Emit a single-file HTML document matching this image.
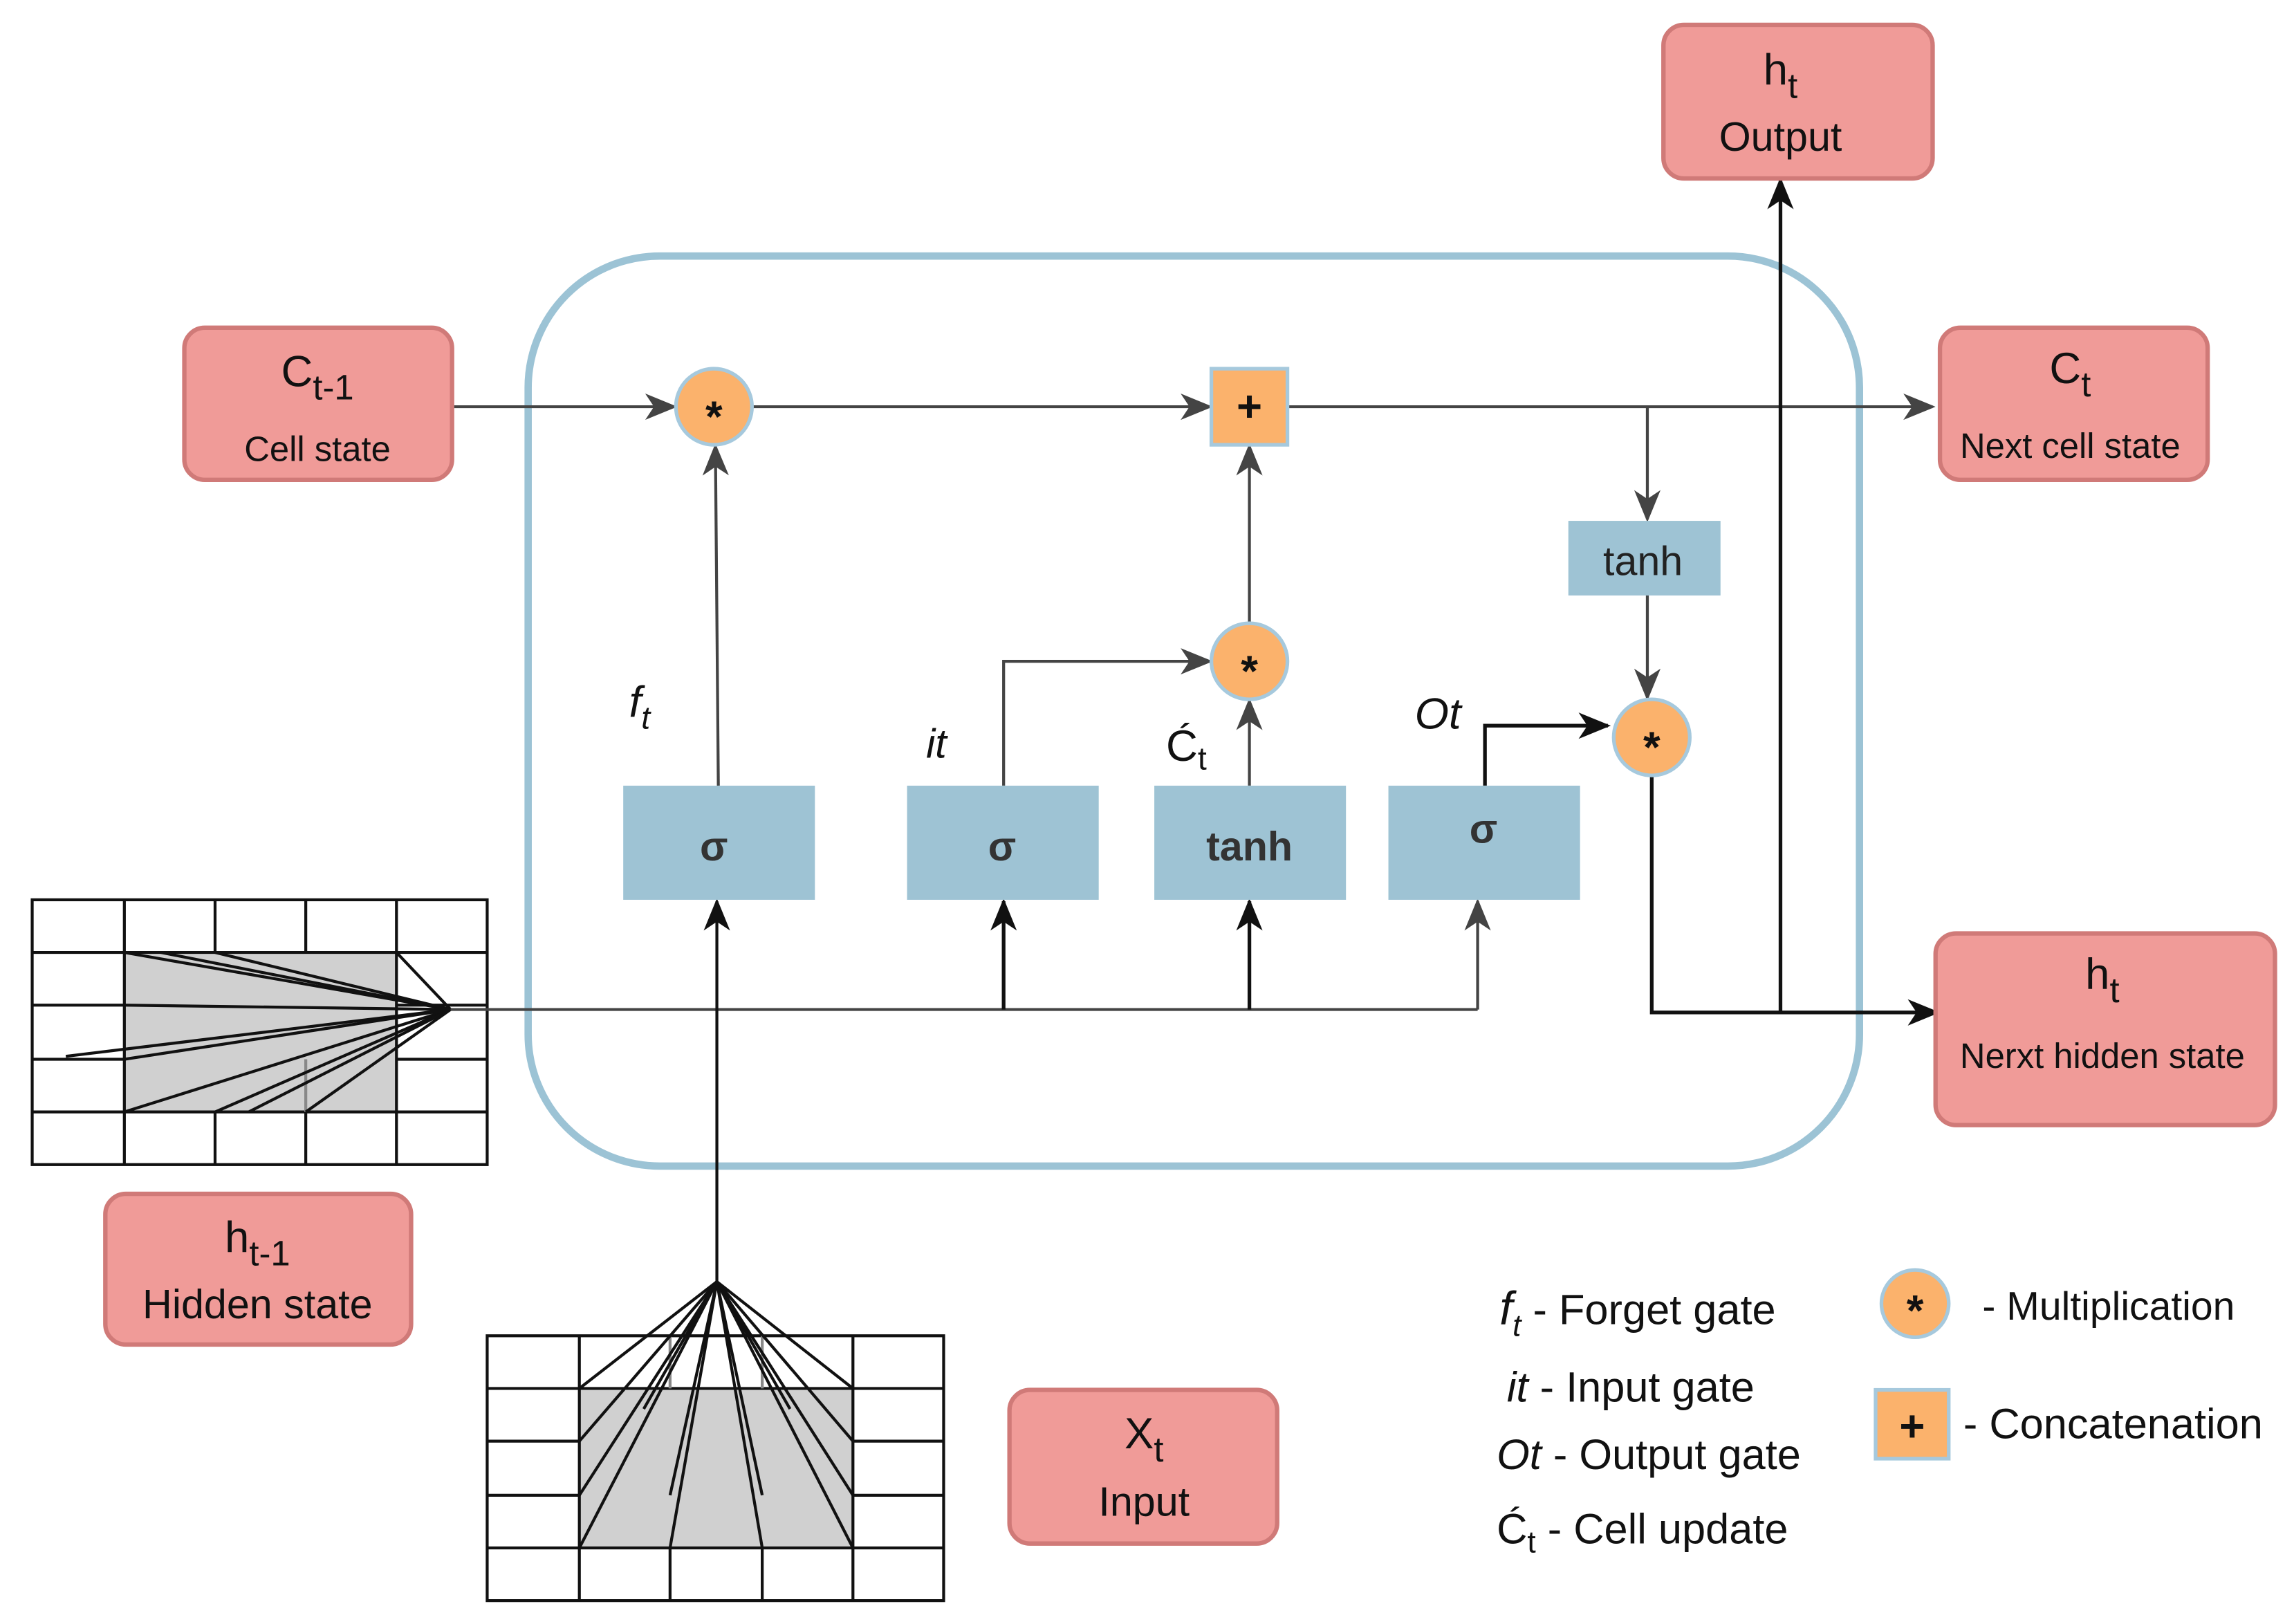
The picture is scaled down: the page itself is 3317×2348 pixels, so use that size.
<!DOCTYPE html>
<html><head><meta charset="utf-8"><style>
html,body{margin:0;padding:0;background:#fff}
svg{display:block}
text{font-family:"Liberation Sans",sans-serif;fill:#111}
</style></head><body>
<svg width="3317" height="2348" viewBox="0 0 1568 1110" preserveAspectRatio="none" xmlns="http://www.w3.org/2000/svg">
<defs>
<marker id="ab" markerWidth="22" markerHeight="22" refX="20" refY="11" orient="auto" markerUnits="userSpaceOnUse" viewBox="0 0 22 22"><path d="M0,2 L22,11 L0,20 L6,11 Z" fill="#111"/></marker>
<marker id="ag2" markerWidth="22" markerHeight="22" refX="20" refY="11" orient="auto" markerUnits="userSpaceOnUse" viewBox="0 0 22 22"><path d="M0,2 L22,11 L0,20 L6,11 Z" fill="#444"/></marker>
</defs>
<rect x="0" y="0" width="1568" height="1110" fill="#fff"/>
<rect x="361" y="175" width="910" height="622" rx="90" fill="none" stroke="#9cc3d5" stroke-width="5"/>

<!-- grid 1 -->
<rect x="85" y="651" width="186" height="109" fill="#d0d0d0"/>
<g stroke="#111" stroke-width="2" fill="none">
<rect x="22" y="615" width="311" height="181"/>
<line x1="22" y1="651" x2="333" y2="651"/>
<line x1="22" y1="687" x2="85" y2="687"/><line x1="271" y1="687" x2="333" y2="687"/>
<line x1="22" y1="724" x2="85" y2="724"/><line x1="271" y1="724" x2="333" y2="724"/>
<line x1="22" y1="760" x2="333" y2="760"/>
<line x1="85" y1="615" x2="85" y2="651"/><line x1="147" y1="615" x2="147" y2="651"/><line x1="209" y1="615" x2="209" y2="651"/><line x1="271" y1="615" x2="271" y2="651"/>
<line x1="85" y1="651" x2="85" y2="760"/><line x1="271" y1="651" x2="271" y2="760"/>
<line x1="85" y1="760" x2="85" y2="796"/><line x1="147" y1="760" x2="147" y2="796"/><line x1="209" y1="760" x2="209" y2="796"/><line x1="271" y1="760" x2="271" y2="796"/>
<line x1="209" y1="724" x2="209" y2="760" stroke="#888"/>
<line x1="308" y1="690" x2="85" y2="651"/><line x1="308" y1="690" x2="110" y2="651"/><line x1="308" y1="690" x2="147" y2="651"/><line x1="308" y1="690" x2="271" y2="651"/>
<line x1="308" y1="690" x2="45" y2="722"/><line x1="308" y1="690" x2="85" y2="724"/>
<line x1="308" y1="690" x2="85" y2="760"/><line x1="308" y1="690" x2="147" y2="760"/><line x1="308" y1="690" x2="170" y2="760"/><line x1="308" y1="690" x2="209" y2="760"/>
<line x1="85" y1="687" x2="308" y2="690"/>
</g>

<!-- grid 2 -->
<rect x="396" y="949" width="187" height="109" fill="#d0d0d0"/>
<g stroke="#111" stroke-width="2" fill="none">
<rect x="333" y="913" width="312" height="181"/>
<line x1="333" y1="949" x2="645" y2="949"/>
<line x1="333" y1="985" x2="396" y2="985"/><line x1="583" y1="985" x2="645" y2="985"/>
<line x1="333" y1="1022" x2="396" y2="1022"/><line x1="583" y1="1022" x2="645" y2="1022"/>
<line x1="333" y1="1058" x2="645" y2="1058"/>
<line x1="396" y1="913" x2="396" y2="1058"/><line x1="583" y1="913" x2="583" y2="1058"/>
<line x1="458" y1="913" x2="458" y2="949" stroke="#888"/><line x1="521" y1="913" x2="521" y2="949" stroke="#888"/>
<line x1="396" y1="1058" x2="396" y2="1094"/><line x1="458" y1="1058" x2="458" y2="1094"/><line x1="521" y1="1058" x2="521" y2="1094"/><line x1="583" y1="1058" x2="583" y2="1094"/>
<line x1="490" y1="876" x2="396" y2="949"/><line x1="490" y1="876" x2="396" y2="985"/><line x1="490" y1="876" x2="396" y2="1022"/><line x1="490" y1="876" x2="396" y2="1058"/>
<line x1="490" y1="876" x2="458" y2="1022"/><line x1="490" y1="876" x2="458" y2="1058"/><line x1="490" y1="876" x2="440" y2="963"/>
<line x1="490" y1="876" x2="521" y2="1022"/><line x1="490" y1="876" x2="521" y2="1058"/><line x1="490" y1="876" x2="540" y2="963"/>
<line x1="490" y1="876" x2="583" y2="1058"/><line x1="490" y1="876" x2="583" y2="1022"/><line x1="490" y1="876" x2="583" y2="985"/><line x1="490" y1="876" x2="583" y2="949"/>
</g>

<!-- connectors -->
<g stroke="#444" stroke-width="2" fill="none">
<line x1="309" y1="278" x2="461" y2="278" marker-end="url(#ag2)"/>
<line x1="514" y1="278" x2="827" y2="278" marker-end="url(#ag2)"/>
<line x1="880" y1="278" x2="1321" y2="278" marker-end="url(#ag2)"/>
<line x1="1126" y1="278" x2="1126" y2="355" marker-end="url(#ag2)"/>
<line x1="1126" y1="407" x2="1126" y2="477" marker-end="url(#ag2)"/>
<line x1="491" y1="537" x2="489" y2="305" marker-end="url(#ag2)"/>
<line x1="854" y1="426" x2="854" y2="305" marker-end="url(#ag2)"/>
<line x1="854" y1="537" x2="854" y2="479" marker-end="url(#ag2)"/>
<polyline points="686,537 686,452 827,452" marker-end="url(#ag2)"/>
<line x1="308" y1="690" x2="1010" y2="690"/>
<line x1="1010" y1="690" x2="1010" y2="616" marker-end="url(#ag2)"/>
</g>
<g stroke="#111" stroke-width="2.5" fill="none">
<line x1="490" y1="876" x2="490" y2="616" stroke-width="2" marker-end="url(#ab)"/>
<line x1="686" y1="690" x2="686" y2="616" marker-end="url(#ab)"/>
<line x1="854" y1="690" x2="854" y2="616" marker-end="url(#ab)"/>
<polyline points="1015,537 1015,496 1099,496" marker-end="url(#ab)"/>
<polyline points="1129,530 1129,692 1324,692" marker-end="url(#ab)"/>
<line x1="1217" y1="692" x2="1217" y2="123" marker-end="url(#ab)"/>
</g>

<!-- ops -->
<g stroke="#a6c9dd" stroke-width="2.5" fill="#fbb26c">
<circle cx="488" cy="278" r="26"/>
<rect x="828" y="252" width="52" height="52"/>
<circle cx="854" cy="452" r="26"/>
<circle cx="1129" cy="504" r="26"/>
<circle cx="1309" cy="891" r="23"/>
<rect x="1282" y="950" width="50" height="47"/>
</g>
<g font-size="30" font-weight="bold" text-anchor="middle">
<text x="488" y="295">*</text><text x="854" y="288">+</text>
<text x="854" y="469">*</text><text x="1129" y="521">*</text>
<text x="1309" y="906">*</text><text x="1307" y="985">+</text>
</g>

<!-- gates -->
<g fill="#9ec3d4">
<rect x="426" y="537" width="131" height="78"/>
<rect x="620" y="537" width="131" height="78"/>
<rect x="789" y="537" width="131" height="78"/>
<rect x="949" y="537" width="131" height="78"/>
<rect x="1072" y="356" width="104" height="51"/>
</g>
<g font-size="28" font-weight="bold" text-anchor="middle">
<text x="488" y="588" style="fill:#333">σ</text>
<text x="685" y="588" style="fill:#333">σ</text>
<text x="854" y="588" style="fill:#333">tanh</text>
<text x="1014" y="576" style="fill:#333">σ</text>
</g>
<text x="1123" y="393" font-size="28" text-anchor="middle" style="fill:#222">tanh</text>

<!-- labels -->
<text x="430" y="490" font-size="30" font-style="italic">f<tspan font-size="22" dy="8">t</tspan></text>
<text x="633" y="518" font-size="28" font-style="italic">it</text>
<text x="797" y="520" font-size="30">Ć<tspan font-size="22" dy="6">t</tspan></text>
<text x="967" y="498" font-size="30" font-style="italic">Ot</text>

<!-- pink boxes -->
<g fill="#f09b98" stroke="#d07a78" stroke-width="3">
<rect x="126" y="224" width="183" height="104" rx="14"/>
<rect x="1137" y="17" width="184" height="105" rx="14"/>
<rect x="1326" y="224" width="183" height="104" rx="14"/>
<rect x="1323" y="638" width="232" height="131" rx="14"/>
<rect x="72" y="816" width="209" height="103" rx="14"/>
<rect x="690" y="950" width="183" height="105" rx="14"/>
</g>
<g text-anchor="middle">
<text x="217" y="264" font-size="30">C<tspan font-size="24" dy="9">t-1</tspan></text>
<text x="217" y="315" font-size="24">Cell state</text>
<text x="1217" y="58" font-size="30">h<tspan font-size="24" dy="9">t</tspan></text>
<text x="1217" y="103" font-size="28">Output</text>
<text x="1415" y="262" font-size="30">C<tspan font-size="24" dy="9">t</tspan></text>
<text x="1415" y="313" font-size="24">Next cell state</text>
<text x="1437" y="676" font-size="30">h<tspan font-size="24" dy="9">t</tspan></text>
<text x="1437" y="730" font-size="24">Nerxt hidden state</text>
<text x="176" y="856" font-size="30">h<tspan font-size="24" dy="9">t-1</tspan></text>
<text x="176" y="901" font-size="28">Hidden state</text>
<text x="782" y="990" font-size="30">X<tspan font-size="24" dy="9">t</tspan></text>
<text x="782" y="1036" font-size="28">Input</text>
</g>

<!-- legend -->
<g font-size="29">
<text x="1025" y="905"><tspan font-style="italic" font-size="32">f</tspan><tspan font-style="italic" font-size="21" dy="8">t</tspan><tspan dy="-8"> - Forget gate</tspan></text>
<text x="1030" y="958"><tspan font-style="italic">it</tspan> - Input gate</text>
<text x="1023" y="1004"><tspan font-style="italic">Ot</tspan> - Output gate</text>
<text x="1023" y="1055">Ć<tspan font-size="21" dy="6">t</tspan><tspan dy="-6"> - Cell update</tspan></text>
<text x="1355" y="902" font-size="27">- Multiplication</text>
<text x="1342" y="983">- Concatenation</text>
</g>
</svg>
</body></html>
